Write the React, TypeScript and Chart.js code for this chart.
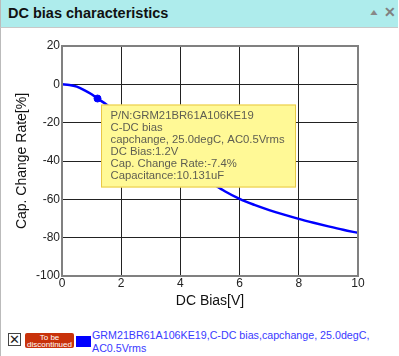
import React, { useEffect, useRef } from "react";
import { Chart, registerables } from "chart.js";

Chart.register(...registerables);

const biasV = [0, 0.25, 0.5, 0.75, 1, 1.2, 1.5, 2, 2.5, 3, 3.5, 4, 4.5, 5, 5.5, 6, 6.5, 7, 7.5, 8, 8.5, 9, 9.5, 10];
const capChange = [0, -0.3, -1.2, -3, -5.2, -7.4, -10.5, -17, -23.5, -30, -36, -41.5, -46.5, -51, -55.8, -59.8, -62.9, -65.6, -68, -70.2, -72.2, -74.1, -75.9, -77.5];
const hoverBias = [1.2];
const hoverRate = [-7.4];
const tooltipLines = [
  "P/N:GRM21BR61A106KE19",
  "C-DC bias",
  "capchange, 25.0degC, AC0.5Vrms",
  "DC Bias:1.2V",
  "Cap. Change Rate:-7.4%",
  "Capacitance:10.131uF",
];
const seriesLabel = "GRM21BR61A106KE19,C-DC bias,capchange, 25.0degC, AC0.5Vrms";

const tooltipPlugin = {
  id: "fixedTip",
  afterDraw(chart: any) {
    const ctx = chart.ctx;
    const xs = chart.scales.x;
    const ys = chart.scales.y;
    const px = xs.getPixelForValue(hoverBias[0]);
    const py = ys.getPixelForValue(hoverRate[0]);
    const bx = px + 3.5;
    const by = py + 6;
    const w = 195;
    const h = 83;
    ctx.save();
    ctx.fillStyle = "rgb(255,249,150)";
    ctx.fillRect(bx, by, w, h);
    ctx.strokeStyle = "rgb(232,200,70)";
    ctx.lineWidth = 1;
    ctx.strokeRect(bx + 0.5, by + 0.5, w - 1, h - 1);
    ctx.fillStyle = "#5e5e52";
    ctx.font = "11.3px 'Liberation Sans', Arial, sans-serif";
    ctx.textBaseline = "middle";
    tooltipLines.forEach((t, i) => {
      ctx.fillText(t, bx + 9.5, by + 11 + i * 12.1);
    });
    ctx.restore();
  },
};

export default function App() {
  const ref = useRef<HTMLCanvasElement>(null);
  useEffect(() => {
    const chart = new Chart(ref.current as HTMLCanvasElement, {
      type: "scatter",
      data: {
        datasets: [
          {
            data: hoverBias.map((x, i) => ({ x, y: hoverRate[i] })),
            showLine: false,
            pointRadius: 3.5,
            pointBackgroundColor: "#0000ff",
            pointBorderColor: "#0000ff",
            order: 0,
          },
          {
            data: biasV.map((x, i) => ({ x, y: capChange[i] })),
            showLine: true,
            borderColor: "#0000ff",
            borderWidth: 2.5,
            pointRadius: 0,
            tension: 0.4,
            cubicInterpolationMode: "monotone",
            order: 1,
          },
        ],
      },
      options: {
        animation: false,
        responsive: false,
        events: [],
        layout: { padding: { left: 0, right: 41, top: 18, bottom: 0 } },
        plugins: { legend: { display: false }, tooltip: { enabled: false } },
        scales: {
          x: {
            type: "linear",
            min: 0,
            max: 10,
            ticks: { stepSize: 2, color: "#222", font: { size: 12, family: "'Liberation Sans', Arial" }, padding: 0, maxRotation: 0 },
            grid: { color: "#222", lineWidth: 1, drawTicks: false },
            border: { color: "#808080", width: 2 },
            title: { display: true, text: "DC Bias[V]", color: "#111", font: { size: 14, family: "'Liberation Sans', Arial" }, padding: { top: 0, bottom: 0 } },
            afterFit: (s: any) => { s.height = 34; },
          },
          y: {
            min: -100,
            max: 20,
            ticks: { stepSize: 20, color: "#222", font: { size: 12, family: "'Liberation Sans', Arial" }, padding: 2 },
            grid: { color: "#222", lineWidth: 1, drawTicks: false },
            border: { color: "#808080", width: 2 },
            title: { display: true, text: "Cap. Change Rate[%]", color: "#111", font: { size: 14, family: "'Liberation Sans', Arial" }, padding: { top: 14, bottom: 0 } },
            afterFit: (s: any) => { s.width = 62; },
          },
        },
      },
      plugins: [
        tooltipPlugin,
        {
          id: "frame",
          afterDatasetsDraw(c: any) {
            const a = c.chartArea;
            const ctx = c.ctx;
            ctx.save();
            ctx.strokeStyle = "#808080";
            ctx.lineWidth = 2;
            ctx.strokeRect(a.left, a.top, a.right - a.left, a.bottom - a.top);
            ctx.restore();
          },
        },
      ],
    } as any);
    return () => chart.destroy();
  }, []);

  return (
    <div style={{ position: "fixed", left: 0, top: 0, width: 399, height: 356, background: "#fff", fontFamily: "'Liberation Sans', Arial, sans-serif", overflow: "hidden" }}>
      <div style={{ position: "absolute", left: 0, top: 0, width: 397, height: 27, background: "rgb(174,236,236)", borderBottom: "1px solid #c8c8c8", borderLeft: "1px solid #bbb" }}>
        <span style={{ position: "absolute", left: 7, top: 5, fontSize: 14.5, fontWeight: "bold", color: "#111" }}>DC bias characteristics</span>
        <span style={{ position: "absolute", left: 367, top: 5, fontSize: 12, color: "#888", transform: "scaleY(0.7)" }}>▲</span>
        <span style={{ position: "absolute", left: 383, top: 4, fontSize: 14, fontWeight: "bold", color: "#808080" }}>✕</span>
      </div>
      <div style={{ position: "absolute", left: 0, top: 28, width: 1, height: 328, background: "#bbb" }} />
      <canvas ref={ref} width={399} height={282} style={{ position: "absolute", left: 0, top: 28, width: 399, height: 282 }} />
      <div style={{ position: "absolute", left: 8, top: 333, width: 13, height: 13, border: "1px solid #444", boxSizing: "border-box", fontSize: 13, lineHeight: "11px", textAlign: "center", color: "#222" }}>✕</div>
      <div style={{ position: "absolute", left: 25, top: 333, width: 49, height: 15, background: "rgb(200,50,10)", borderRadius: 2, color: "#fff", fontSize: 8, lineHeight: "7px", textAlign: "center", paddingTop: 1, boxSizing: "border-box" }}>
        To be<br />discontinued
      </div>
      <div style={{ position: "absolute", left: 76, top: 336, width: 15, height: 11, background: "#0000ff" }} />
      <div style={{ position: "absolute", left: 92, top: 329, width: 300, fontSize: 10.7, lineHeight: "13px", color: "#3a3aff" }}>{seriesLabel}</div>
    </div>
  );
}
